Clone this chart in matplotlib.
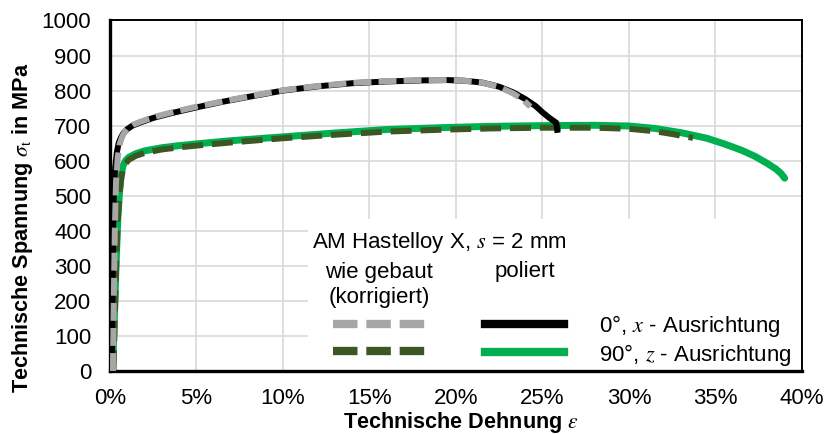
import numpy as np
import matplotlib
matplotlib.use("Agg")
import matplotlib.pyplot as plt
from matplotlib.patches import Rectangle
from matplotlib.ticker import FuncFormatter

plt.rcParams["font.family"] = ["Liberation Sans", "DejaVu Sans"]
plt.rcParams["mathtext.fontset"] = "stix"

###############################################################################
# data (strain in %, stress in MPa)
###############################################################################
# 0 deg, x orientation, polished
pol0_strain = [0.10, 0.15, 0.20, 0.30, 0.40, 0.50, 0.65, 0.80, 1.0, 1.3, 1.7,
               2.5, 3.5, 5.0, 6.5, 8.0, 10.0, 12.0, 14.0, 16.0, 18.0, 19.5,
               20.5, 21.5, 22.5, 23.3, 24.0, 24.6, 25.0, 25.4, 25.8, 25.85]
pol0_stress = [0, 250, 480, 580, 625, 650, 668, 680, 690, 700, 708,
               722, 735, 752, 768, 782, 800, 812, 821, 826, 829, 830,
               828, 823, 811, 795, 776, 756, 738, 722, 708, 688]

# 0 deg, x orientation, as built (corrected)
built0_strain = [0.17, 0.22, 0.28, 0.35, 0.45, 0.55, 0.70, 0.85, 1.0, 1.3,
                 1.7, 2.5, 3.5, 5.0, 6.5, 8.0, 10.0, 12.0, 14.0, 16.0, 18.0,
                 19.5, 20.5, 21.5, 22.5, 23.3, 23.9, 24.3]
built0_stress = [0, 200, 400, 540, 610, 645, 668, 682, 692, 702,
                 710, 724, 737, 754, 769, 783, 801, 813, 822, 827, 830,
                 830, 828, 823, 810, 792, 773, 754]

# 90 deg, z orientation, polished
pol90_strain = [0.15, 0.25, 0.35, 0.45, 0.55, 0.65, 0.75, 0.9, 1.1, 1.5, 2.0,
                3.0, 4.0, 5.0, 7.0, 10.0, 13.0, 16.0, 19.0, 22.0, 25.0, 28.0,
                30.0, 31.5, 33.0, 34.5, 35.5, 36.5, 37.3, 38.0, 38.5, 38.8,
                39.0]
pol90_stress = [0, 150, 300, 430, 510, 560, 585, 600, 610, 620, 628,
                637, 643, 648, 657, 668, 679, 689, 694, 698, 700, 701,
                699, 692, 680, 664, 648, 630, 612, 592, 576, 563,
                550]

# 90 deg, z orientation, as built (corrected)
built90_strain = [0.20, 0.28, 0.36, 0.45, 0.55, 0.65, 0.75, 0.9, 1.1, 1.5,
                  2.0, 3.0, 4.0, 5.0, 7.0, 10.0, 13.0, 16.0, 19.0, 22.0, 25.0,
                  28.0, 30.0, 31.5, 32.5, 33.7]
built90_stress = [0, 150, 300, 430, 505, 550, 575, 592, 603, 614,
                  622, 632, 638, 643, 652, 664, 674, 683, 688, 692, 694,
                  694, 691, 684, 676, 665]

x_ticks = [0, 5, 10, 15, 20, 25, 30, 35, 40]
y_ticks = [0, 100, 200, 300, 400, 500, 600, 700, 800, 900, 1000]

###############################################################################
# colours
###############################################################################
c_black = "#000000"
c_gray = "#A6A6A6"
c_green = "#00B050"
c_dkgreen = "#3A5724"

fs = 16
fs_lab = 15.6

fig = plt.figure(figsize=(8.25, 4.34), dpi=100)
ax = fig.add_axes([0.1333, 0.1452, 0.8388, 0.8076])

ax.plot(pol90_strain, pol90_stress, color=c_green, lw=5.0, zorder=3,
        solid_capstyle="round", solid_joinstyle="round")
ax.plot(built90_strain, built90_stress, color=c_dkgreen, lw=4.3, zorder=4,
        dashes=(3.5, 1.5))
ax.plot(pol0_strain, pol0_stress, color=c_black, lw=4.3, zorder=5,
        solid_joinstyle="round")
ax.plot(built0_strain, built0_stress, color=c_gray, lw=4.3, zorder=6,
        dashes=(3.0, 1.2))

ax.set_xlim(0, 40)
ax.set_ylim(0, 1000)
ax.set_xticks(x_ticks)
ax.set_yticks(y_ticks)
ax.xaxis.set_major_formatter(FuncFormatter(lambda v, p: "%d%%" % v))
ax.tick_params(length=0, labelsize=fs)
ax.tick_params(axis="y", pad=13.5)
ax.tick_params(axis="x", pad=12)

ax.set_axisbelow(True)
ax.grid(True, color="#D9D9D9", lw=1.2)

for side in ["left", "bottom"]:
    ax.spines[side].set_linewidth(2.4)
for side in ["top", "right"]:
    ax.spines[side].set_linewidth(1.4)

ax.set_xlabel(r"Technische Dehnung $\varepsilon$", fontsize=fs_lab,
              fontweight="bold")
ax.xaxis.set_label_coords(0.507, -0.112)
ax.set_ylabel(r"Technische Spannung $\sigma_\mathrm{t}$ in MPa",
              fontsize=fs_lab, fontweight="bold")
ax.yaxis.set_label_coords(-0.108, 0.408)

############
# legend box, drawn by hand
############
ax.add_patch(Rectangle((0.286, 0.0), 0.714, 0.434, transform=ax.transAxes,
                       facecolor="white", edgecolor="none", zorder=1))

tr = ax.transAxes
ax.text(0.2915, 0.350, "AM Hastelloy X, $s$ = 2 mm", transform=tr,
        fontsize=fs, va="baseline", ha="left", zorder=7)
ax.text(0.388, 0.265, "wie gebaut", transform=tr, fontsize=fs,
        va="baseline", ha="center", zorder=7)
ax.text(0.389, 0.195, "(korrigiert)", transform=tr, fontsize=fs,
        va="baseline", ha="center", zorder=7)
ax.text(0.599, 0.267, "poliert", transform=tr, fontsize=fs,
        va="baseline", ha="center", zorder=7)
ax.text(0.707, 0.112, "0°, $x$ - Ausrichtung", transform=tr, fontsize=fs,
        va="baseline", ha="left", zorder=7)
ax.text(0.707, 0.028, "90°, $z$ - Ausrichtung", transform=tr, fontsize=fs,
        va="baseline", ha="left", zorder=7)

ax.plot([0.3218, 0.4566], [0.1332, 0.1332], transform=tr, color=c_gray,
        lw=6, dashes=(2.94, 1.06), zorder=7)
ax.plot([0.3218, 0.4566], [0.057, 0.057], transform=tr, color=c_dkgreen,
        lw=6, dashes=(2.94, 1.06), zorder=7)
ax.plot([0.5419, 0.6556], [0.135, 0.135], transform=tr, color=c_black,
        lw=6, zorder=7)
ax.plot([0.5419, 0.6556], [0.055, 0.055], transform=tr, color=c_green,
        lw=6, zorder=7)

fig.savefig("out.png", dpi=100)
